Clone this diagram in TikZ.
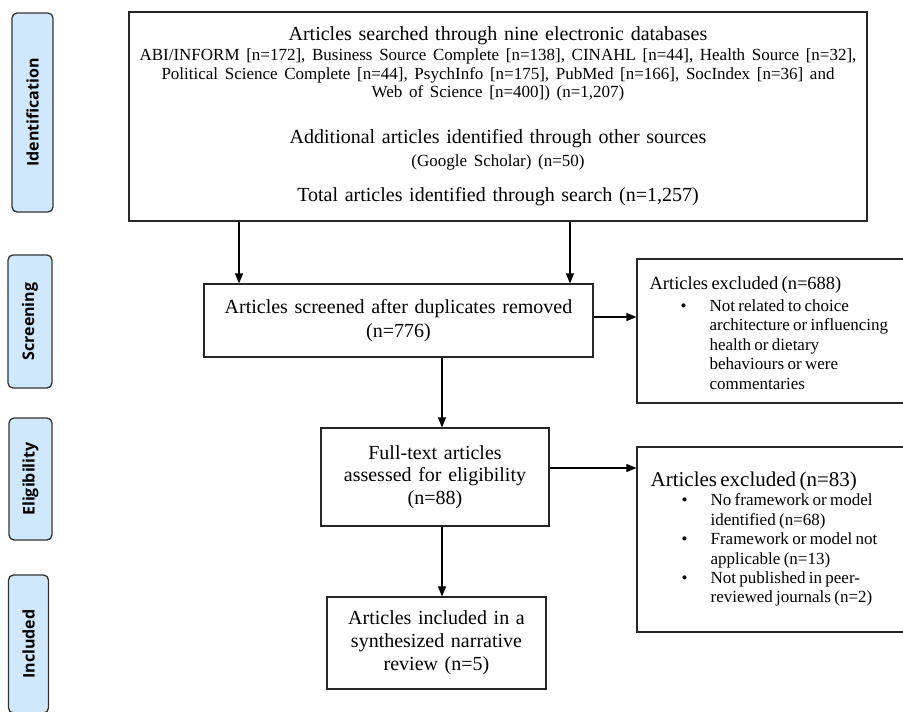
\documentclass[tikz,border=0pt]{standalone}
\usepackage{fontspec}
\setmainfont{Liberation Serif}
\newfontfamily\stagefamily{Open Sans}
\usepackage{enumitem}
\usepackage{tikz}
\usetikzlibrary{positioning, arrows.meta}
\definecolor{stageblue}{HTML}{CFE8FC}
\newcommand{\bigtxt}{\fontsize{20}{23}\selectfont}
\newcommand{\smalltxt}{\fontsize{17}{18.5}\selectfont}
\newcommand{\itemtxt}{\fontsize{17}{19.4}\selectfont}
\tikzstyle{stage}=[rectangle, rounded corners=5pt, draw=black!80, line width=1.3pt, fill=stageblue, rotate=90, minimum height=41pt, inner sep=0pt, font=\stagefamily\bfseries\fontsize{16}{18}\selectfont]
\tikzstyle{block}=[rectangle, draw=black!85, line width=1.2pt, align=center, inner sep=0pt, font=\bigtxt]
\tikzstyle{note}=[align=left, inner sep=0pt, text width=260pt]
\tikzstyle{flow}=[line width=1.2pt, -{Triangle[length=10pt, width=8pt]}]

\begin{document}
\begin{tikzpicture}[x=1pt, y=-1pt]
                \useasboundingbox (0,0) rectangle (903,712);
                \clip (0,0) rectangle (903,712);

                % Etapes
                \node[stage, minimum width=199pt] (ident) at (32.5,112.5) {Identification};
                \node[stage, minimum width=133pt, minimum height=44pt] (screening) at (30,321.5) {Screening};
                \node[stage, minimum width=122pt, minimum height=43pt] (eligib) at (30.5,479) {Eligibility};
                \node[stage, minimum width=138pt, minimum height=40pt] (incl) at (28.5,644) {Included};

                % Blocs
                \node[block, minimum width=738pt, minimum height=209pt, text width=720pt] (search) at (498,116.5) {%
                    \bigtxt Articles searched through nine electronic databases\\[1.5pt]
                    \smalltxt ABI/INFORM [n=172], Business Source Complete [n=138], CINAHL [n=44], Health Source [n=32],\\
                    Political Science Complete [n=44], PsychInfo [n=175], PubMed [n=166], SocIndex [n=36] and\\
                    Web of Science [n=400]) (n=1,207)\\[23pt]
                    \bigtxt Additional articles identified through other sources\\[4.5pt]
                    \smalltxt (Google Scholar) (n=50)\\[12pt]
                    \bigtxt Total articles identified through search (n=1,257)};
                \node[block, minimum width=389pt, minimum height=73pt, text width=370pt, font=\fontsize{20}{24}\selectfont] (screen) at (398.5,320.5) {Articles screened after duplicates removed\\(n=776)};
                \node[block, minimum width=228pt, minimum height=98pt, text width=215pt, font=\fontsize{20}{22.5}\selectfont] (fulltext) at (435,477) {Full-text articles\\assessed for eligibility\\(n=88)};
                \node[block, minimum width=219pt, minimum height=92pt, text width=205pt] (included) at (436.5,643) {Articles included in a\\synthesized narrative\\review (n=5)};

                % Exclusions
                \node[block, minimum width=273pt, minimum height=144pt] (excl1) at (773.5,331) {};
                \node[block, minimum width=273pt, minimum height=185pt] (excl2) at (773.5,539.5) {};
                \node[note, anchor=base west] (excl1txt) at ([xshift=13pt, yshift=-31pt]excl1.north west) {%
                    {\fontsize{18.5}{20}\selectfont Articles excluded (n=688)}\par
                    \itemtxt
                    \begin{itemize}[label=\textbullet, leftmargin=60pt, labelsep=23pt, topsep=2.6pt, partopsep=0pt, itemsep=0pt, parsep=0pt]
                        \item Not related to choice\newline architecture or influencing\newline health or dietary\newline behaviours or were\newline commentaries
                    \end{itemize}};
                \node[note, anchor=base west] (excl2txt) at ([xshift=14pt, yshift=-40pt]excl2.north west) {%
                    {\fontsize{21}{22}\selectfont Articles excluded (n=83)}\par
                    \itemtxt
                    \begin{itemize}[label=\textbullet, leftmargin=60pt, labelsep=23pt, topsep=-4.4pt, partopsep=0pt, itemsep=0pt, parsep=0pt]
                        \item No framework or model\newline identified (n=68)
                        \item Framework or model not\newline applicable (n=13)
                        \item Not published in peer-\newline reviewed journals (n=2)
                    \end{itemize}};

                % Fleches
                \draw[flow] ([xshift=-259pt]search.south) -- ([xshift=-159.5pt]screen.north);
                \draw[flow] ([xshift=72pt]search.south) -- ([xshift=171.5pt]screen.north);
                \draw[flow] ([yshift=3.5pt]screen.east) -- ([yshift=14pt]excl1.west);
                \draw[flow] ([xshift=43.5pt]screen.south) -- ([xshift=7pt]fulltext.north);
                \draw[flow] ([yshift=9pt]fulltext.east) -- ([yshift=71.5pt]excl2.west);
                \draw[flow] ([xshift=7pt]fulltext.south) -- ([xshift=5.5pt]included.north);
            \end{tikzpicture}
\end{document}
